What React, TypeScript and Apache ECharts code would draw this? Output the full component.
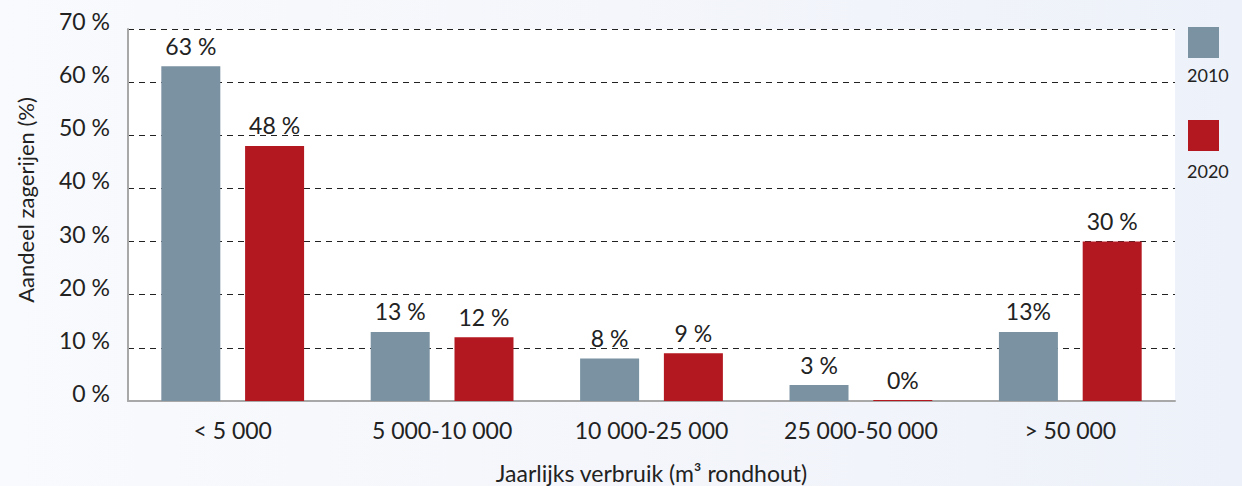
import React, { useEffect, useRef } from "react";
import * as echarts from "echarts";

const categories = ["< 5 000", "5 000-10 000", "10 000-25 000", "25 000-50 000", "> 50 000"];
const seriesNames = ["2010", "2020"];
const values2010 = [63, 13, 8, 3, 13];
const values2020 = [48, 12, 9, 0, 30];
const labels2010 = ["63 %", "13 %", "8 %", "3 %", "13%"];
const labels2020 = ["48 %", "12 %", "9 %", "0%", "30 %"];
const yTicks = [0, 10, 20, 30, 40, 50, 60, 70];
const colors = ["#7b92a2", "#b31820"];

const FONT = "Lato";

export default function App() {
  const ref = useRef<HTMLDivElement>(null);
  useEffect(() => {
    if (!ref.current) return;
    const chart = echarts.init(ref.current, null, { renderer: "svg" });
    const legendGraphics: any[] = [];
    seriesNames.forEach((name, i) => {
      legendGraphics.push({
        type: "rect",
        left: 1188,
        top: 27 + i * 93,
        shape: { width: 31, height: 31 },
        style: { fill: colors[i] },
      });
      legendGraphics.push({
        type: "text",
        left: 1187,
        top: 66 + i * 96,
        style: { text: name, font: `18px ${FONT}`, fill: "#222" },
      });
    });
    const mkSeries = (name: string, data: number[], labels: string[], color: string) => ({
      name,
      type: "bar",
      data,
      barWidth: 59,
      barGap: "42%",
      barMinHeight: 1,
      itemStyle: { color },
      label: {
        show: true,
        position: "top",
        distance: 9,
        color: "#222",
        fontFamily: FONT,
        fontSize: 23,
        formatter: (p: any) => labels[p.dataIndex],
      },
    });
    chart.setOption({
      animation: false,
      textStyle: { fontFamily: FONT },
      grid: {
        left: 128,
        right: 67,
        top: 29,
        bottom: 85,
        show: true,
        backgroundColor: "#ffffff",
        borderWidth: 0,
        outerBoundsMode: "none",
        containLabel: false,
      },
      graphic: legendGraphics,
      xAxis: {
        type: "category",
        data: categories,
        name: "Jaarlijks verbruik (m³ rondhout)",
        nameLocation: "middle",
        nameGap: 60,
        nameTextStyle: { fontSize: 23, color: "#222", fontFamily: FONT },
        axisLine: { show: true, lineStyle: { color: "#a8a8a8", width: 2 } },
        axisTick: { show: false },
        axisLabel: { fontSize: 23, color: "#222", margin: 17, fontFamily: FONT },
      },
      yAxis: {
        type: "value",
        min: yTicks[0],
        max: yTicks[yTicks.length - 1],
        interval: 10,
        name: "Aandeel zagerijen (%)",
        nameLocation: "middle",
        nameGap: 92,
        nameRotate: 90,
        nameTextStyle: {
          fontSize: 22,
          color: "#222",
          fontFamily: FONT,
          padding: [0, 0, 0, 30],
        },
        axisLine: { show: true, lineStyle: { color: "#a8a8a8", width: 2 } },
        axisTick: { show: false },
        axisLabel: {
          fontSize: 23,
          color: "#222",
          margin: 18,
          fontFamily: FONT,
          verticalAlign: "bottom",
          lineHeight: 16,
          formatter: (v: number) => `${v} %`,
        },
        splitLine: { show: true, lineStyle: { color: "#222", type: [6, 5], width: 1 } },
      },
      series: [
        mkSeries(seriesNames[0], values2010, labels2010, colors[0]),
        mkSeries(seriesNames[1], values2020, labels2020, colors[1]),
      ],
    });
    return () => chart.dispose();
  }, []);
  return (
    <div
      style={{
        position: "absolute",
        left: 0,
        top: 0,
        width: 1242,
        height: 486,
        background: "linear-gradient(to right, #f9fafd 0%, #f4f6fb 50%, #edf1f9 100%)",
      }}
    >
      <div ref={ref} style={{ width: 1242, height: 486 }} />
    </div>
  );
}
